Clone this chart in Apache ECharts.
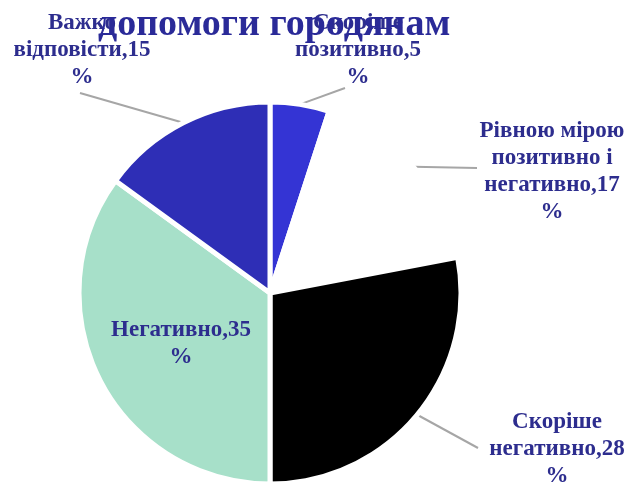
<!DOCTYPE html>
<html>
<head>
<meta charset="utf-8">
<script src="https://cdn.jsdelivr.net/npm/echarts@6/dist/echarts.min.js"></script>
<style>
html, body { margin: 0; padding: 0; background: #fff; }
#chart { width: 633px; height: 487px; }
</style>
</head>
<body>
<div id="chart"></div>
<script>
// дані діаграми
var categories = ['Скоріше\nпозитивно', 'Рівною мірою\nпозитивно і\nнегативно', 'Скоріше\nнегативно', 'Негативно', 'Важко\nвідповісти'];
var values = [5, 17, 28, 35, 15];
var colors = ['#3434d4', '#ffffff', '#000000', '#a7e0c9', '#2e2eb6'];

// де стоять підписи (центр тексту) і куди доходить лінія
var labelPos = [[358, 50], [552, 172], [557, 449], [181, 344], [82, 50]];
var lineEnd = [[345, 88], [477, 168], [478, 448], null, [80, 93]];

var myChart = echarts.init(document.getElementById('chart'));

var seriesData = [];
for (i = 0; i < categories.length; i++) {
    seriesData.push({
        name: categories[i],
        value: values[i],
        itemStyle: { color: colors[i] },
        label: i == 3 ? { position: 'inside' } : {},
        labelLine: { show: i != 3 }
    });
}

option = {
    backgroundColor: '#ffffff',
    title: {
        text: 'допомоги городянам',
        left: 93,
        top: 1,
        textStyle: {
            fontFamily: 'Liberation Serif',
            fontWeight: 'bold',
            fontSize: 38,
            color: '#2a2a98'
        }
    },
    series: [
        {
            type: 'pie',
            center: [270, 293],
            radius: [0, 191],
            startAngle: 90,
            clockwise: true,
            itemStyle: {
                borderColor: '#ffffff',
                borderWidth: 5
            },
            label: {
                show: true,
                formatter: '{b},{c}\n%',
                fontFamily: 'Liberation Serif',
                fontWeight: 'bold',
                fontSize: 23,
                lineHeight: 27,
                color: '#2d2d8e',
                align: 'center',
                overflow: 'none'
            },
            labelLine: {
                show: true,
                lineStyle: { color: '#a6a6a6', width: 2 }
            },
            labelLayout: function (params) {
                var p = labelPos[params.dataIndex];
                var res = {
                    x: p[0],
                    y: p[1],
                    align: 'center',
                    verticalAlign: 'middle'
                };
                var e = lineEnd[params.dataIndex];
                if (e && params.labelLinePoints) {
                    res.labelLinePoints = [params.labelLinePoints[0], e, e];
                }
                return res;
            },
            data: seriesData
        }
    ]
};
myChart.setOption(option);
</script>
</body>
</html>
